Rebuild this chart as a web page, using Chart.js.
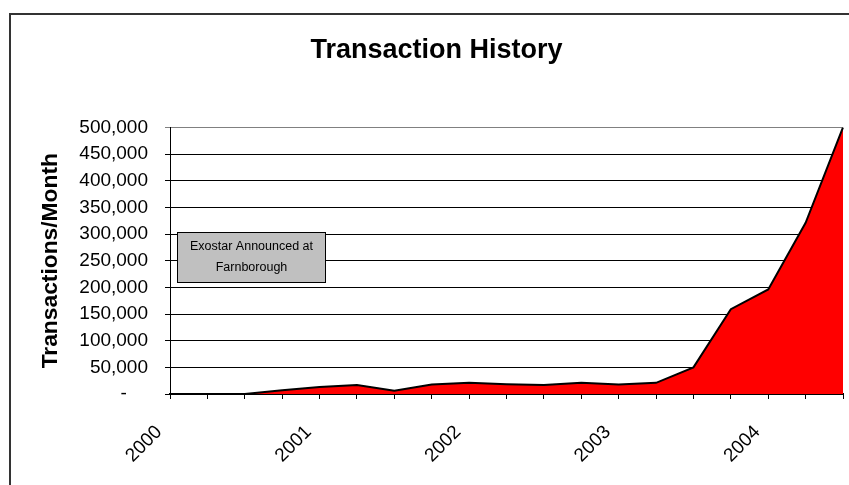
<!DOCTYPE html>
<html>
<head>
<meta charset="utf-8">
<script src="https://cdn.jsdelivr.net/npm/chart.js@4/dist/chart.umd.min.js"></script>
<style>
  html, body { margin: 0; padding: 0; background: #fff; }
  #wrap { position: relative; width: 849px; height: 485px; }
</style>
</head>
<body>
<div id="wrap"><canvas id="c" width="849" height="485"></canvas></div>
<script>
// Quarterly periods, 2000 Q1 .. 2004 Q3
const categories = ['2000','','','','2001','','','','2002','','','','2003','','','','2004','',''];
// Transactions per month
const transactions = [0, 0, 0, 7000, 13000, 17000, 6000, 18000, 21000, 18500, 17000, 21000, 18000, 21000, 50000, 159000, 196000, 321000, 500000];
const yTickStep = 50000;
const yMax = 500000;
const chartTitle = 'Transaction History';
const yTitle = 'Transactions/Month';
const noteLines = ['Exostar Announced at', 'Farnborough'];
// note box placed in data coordinates: [x index from, x index to], [y from, y to]
const noteX = [0.19, 4.15];
const noteY = [303000, 209500];

const FONT = "'Liberation Sans', Arial, sans-serif";

const framePlugin = {
  id: 'frame',
  beforeDraw(chart) {
    const ctx = chart.ctx;
    ctx.save();
    ctx.strokeStyle = '#333';
    ctx.lineWidth = 2;
    ctx.beginPath();
    ctx.moveTo(10, 490);
    ctx.lineTo(10, 14);
    ctx.lineTo(860, 14);
    ctx.stroke();
    ctx.restore();
  }
};

const notePlugin = {
  id: 'note',
  afterDraw(chart) {
    const {x, y} = chart.scales;
    const ctx = chart.ctx;
    const x0 = Math.round(x.getPixelForValue(noteX[0])) + 0.5;
    const x1 = Math.round(x.getPixelForValue(noteX[1])) + 0.5;
    const y0 = Math.round(y.getPixelForValue(noteY[0])) + 0.5;
    const y1 = Math.round(y.getPixelForValue(noteY[1])) + 0.5;
    ctx.save();
    ctx.fillStyle = '#C0C0C0';
    ctx.fillRect(x0, y0, x1 - x0, y1 - y0);
    ctx.strokeStyle = '#000';
    ctx.lineWidth = 1;
    ctx.strokeRect(x0, y0, x1 - x0, y1 - y0);
    ctx.fillStyle = '#000';
    ctx.font = "12.5px " + FONT;
    ctx.textAlign = 'center';
    ctx.textBaseline = 'middle';
    const h = y1 - y0;
    const cx = (x0 + x1) / 2;
    ctx.fillText(noteLines[0], cx, y0 + 0.275 * h);
    ctx.fillText(noteLines[1], cx, y0 + 0.705 * h);
    ctx.restore();
  }
};

new Chart(document.getElementById('c'), {
  type: 'line',
  data: {
    labels: categories,
    datasets: [{
      data: transactions,
      borderColor: '#000',
      borderWidth: 2,
      backgroundColor: '#FF0000',
      fill: 'origin',
      pointRadius: 0,
      tension: 0
    }]
  },
  options: {
    responsive: false,
    animation: false,
    layout: { padding: { left: 30, right: 6, top: 0, bottom: 0 } },
    plugins: {
      legend: { display: false },
      tooltip: { enabled: false },
      title: {
        display: true,
        text: chartTitle,
        color: '#000',
        font: { family: FONT, size: 27, weight: 'bold' },
        padding: { top: 34, bottom: 61 }
      }
    },
    scales: {
      x: {
        type: 'category',
        offset: false,
        afterFit: s => { s.height = 91; s.paddingLeft = 0; s.paddingRight = 0; },
        grid: { drawOnChartArea: false, drawTicks: true, tickLength: 5, color: '#000' },
        border: { display: true, color: '#000', width: 2 },
        ticks: {
          autoSkip: false,
          minRotation: 45,
          maxRotation: 45,
          padding: 22,
          labelOffset: -11,
          color: '#000',
          font: { family: FONT, size: 19 }
        }
      },
      y: {
        min: 0,
        max: yMax,
        afterFit: s => { s.width = 140; s.paddingTop = 0; s.paddingBottom = 0; },
        grid: {
          color: c => (c.tick && c.tick.value === yMax) ? '#808080' : '#000',
          lineWidth: 1,
          tickLength: 5
        },
        border: { display: true, color: '#000', width: 1 },
        title: {
          display: true,
          text: yTitle,
          color: '#000',
          font: { family: FONT, size: 22.8, weight: 'bold' },
          padding: { top: 7, bottom: 0 }
        },
        ticks: {
          stepSize: yTickStep,
          padding: 17,
          color: '#000',
          font: { family: FONT, size: 19 },
          callback: v => v === 0 ? '-    ' : v.toLocaleString('en-US')
        }
      }
    }
  },
  plugins: [framePlugin, notePlugin]
});
</script>
</body>
</html>
